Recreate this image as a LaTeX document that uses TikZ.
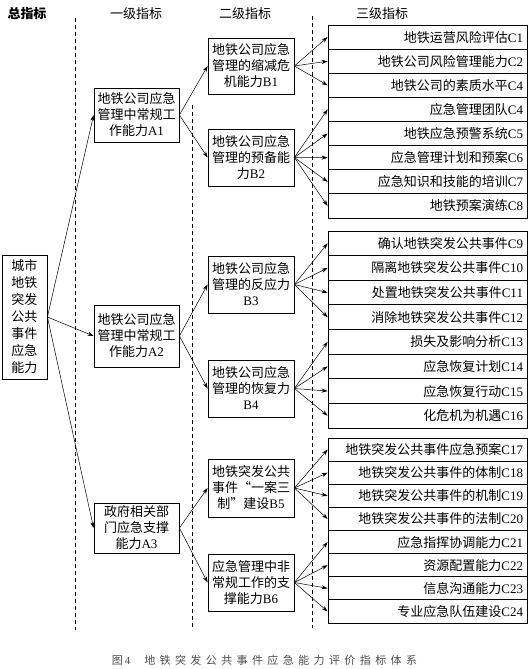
\documentclass[tikz,border=0pt]{standalone}
\usepackage{fontspec}
\setmainfont{Noto Sans CJK SC}
\newfontfamily\latf{Liberation Serif}
\newfontfamily\capf[LetterSpace=40]{Noto Sans CJK SC}
\usetikzlibrary{arrows.meta,positioning}
\newcommand{\lid}[1]{{\latf #1}}
\tikzset{
  blk/.style={draw, line width=0.8pt, align=center, inner sep=2pt,
              font=\fontsize{13}{16}\selectfont},
  cbox/.style={draw, line width=0.8pt, minimum width=199pt, text width=191pt,
               inner xsep=4pt, inner ysep=0pt, align=right,
               font=\fontsize{13}{15}\selectfont},
  sig/.style={-{Stealth[length=6pt,width=4pt]}, line width=0.5pt},
  guide/.style={dash pattern=on 4pt off 3pt, line width=0.5pt},
  hdr/.style={font=\fontsize{13}{15}\selectfont, inner sep=0pt},
}

\begin{document}
\begin{tikzpicture}[x=1pt, y=-1pt]
  \useasboundingbox (0,0) rectangle (529,669);
  % column heads and guides
  \node[hdr, font=\fontsize{13}{15}\selectfont\bfseries] (h0) at (27,14) {总指标};
  \node[hdr] (h1) at (136,14) {一级指标};
  \node[hdr] (h2) at (245,14) {二级指标};
  \node[hdr] (h3) at (382,14) {三级指标};
  \draw[guide] (75,18) -- (75,630);
  \draw[guide] (192,105) -- (192,630);
  \draw[guide] (312,16) -- (312,628);

  % total and first level
  \node[blk, minimum width=45pt, minimum height=124pt, font=\fontsize{13}{17}\selectfont] (top) at (24.5,317)
    {城市\\地铁\\突发\\公共\\事件\\应急\\能力};
  \node[blk, minimum width=85pt, minimum height=54pt] (a1) at (136.5,115) {地铁公司应急\\管理中常规工\\作能力\lid{A1}};
  \node[blk, minimum width=85pt, minimum height=62pt] (a2) at (136.5,336) {地铁公司应急\\管理中常规工\\作能力\lid{A2}};
  \node[blk, minimum width=85pt, minimum height=50pt] (a3) at (136.5,528) {政府相关部\\门应急支撑\\能力\lid{A3}};

  % second level
  \node[blk, minimum width=86pt, minimum height=56pt] (b1) at (251,66) {地铁公司应急\\管理的缩减危\\机能力\lid{B1}};
  \node[blk, minimum width=86pt, minimum height=57pt] (b2) at (251,157.5) {地铁公司应急\\管理的预备能\\力\lid{B2}};
  \node[blk, minimum width=86pt, minimum height=57pt] (b3) at (251,284.5) {地铁公司应急\\管理的反应力\\\lid{B3}};
  \node[blk, minimum width=86pt, minimum height=57pt] (b4) at (251,388.5) {地铁公司应急\\管理的恢复力\\\lid{B4}};
  \node[blk, minimum width=86pt, minimum height=58pt] (b5) at (251,488) {地铁突发公共\\事件“一案三\\制”建设\lid{B5}};
  \node[blk, minimum width=86pt, minimum height=57pt] (b6) at (251,582.5) {应急管理中非\\常规工作的支\\撑能力\lid{B6}};

  % third level
  \foreach \t/\n [count=\i] in {地铁运营风险评估/C1, 地铁公司风险管理能力/C2, 地铁公司的素质水平/C4,
      应急管理团队/C4, 地铁应急预警系统/C5, 应急管理计划和预案/C6, 应急知识和技能的培训/C7, 地铁预案演练/C8}
    \node[cbox, minimum height=24.125pt] (c\i) at (427.5,{25+(\i-0.5)*24.125}) {\t\lid{\n}};
  \foreach \t/\n [count=\i from 9] in {确认地铁突发公共事件/C9, 隔离地铁突发公共事件/C10, 处置地铁突发公共事件/C11,
      消除地铁突发公共事件/C12, 损失及影响分析/C13, 应急恢复计划/C14, 应急恢复行动/C15, 化危机为机遇/C16}
    \node[cbox, minimum height=24.625pt] (c\i) at (427.5,{231+(\i-8.5)*24.625}) {\t\lid{\n}};
  \foreach \t/\n [count=\i from 17] in {地铁突发公共事件应急预案/C17, 地铁突发公共事件的体制/C18, 地铁突发公共事件的机制/C19,
      地铁突发公共事件的法制/C20, 应急指挥协调能力/C21, 资源配置能力/C22, 信息沟通能力/C23, 专业应急队伍建设/C24}
    \node[cbox, minimum height=23.125pt] (c\i) at (427.5,{438+(\i-16.5)*23.125}) {\t\lid{\n}};

  % arrows
  \foreach \a in {a1,a2,a3} \draw[sig] (top.east) -- (\a.west);
  \foreach \b in {b1,b2} \draw[sig] (a1.east) -- (\b.west);
  \foreach \b in {b3,b4} \draw[sig] (a2.east) -- (\b.west);
  \foreach \b in {b5,b6} \draw[sig] (a3.east) -- (\b.west);
  \foreach \c in {1,...,3} \draw[sig] (b1.east) -- (c\c.west);
  \foreach \c in {4,...,8} \draw[sig] (b2.east) -- (c\c.west);
  \foreach \c in {9,...,12} \draw[sig] (b3.east) -- (c\c.west);
  \foreach \c in {13,...,16} \draw[sig] (b4.east) -- (c\c.west);
  \foreach \c in {17,...,20} \draw[sig] (b5.east) -- (c\c.west);
  \foreach \c in {21,...,24} \draw[sig] (b6.east) -- (c\c.west);

  \node[font=\capf\fontsize{11}{13}\selectfont, text=black!70] (cap) at (264.5,660)
    {图\,{\latf 4}\hspace{14pt}地铁突发公共事件应急能力评价指标体系};
\end{tikzpicture}
\end{document}
